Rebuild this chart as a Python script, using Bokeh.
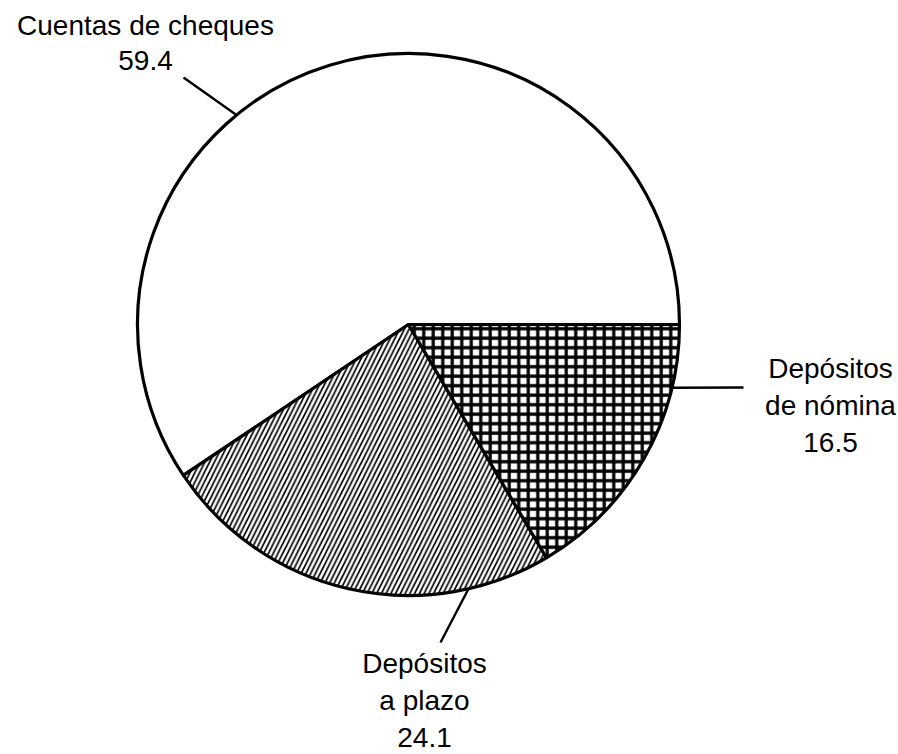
import math
from bokeh.plotting import figure
from bokeh.models import Range1d
from bokeh.core.properties import value
from bokeh.embed import file_html
from bokeh.resources import INLINE

# ---- data ----
categories = ["Cuentas de cheques", "Depósitos a plazo", "Depósitos de nómina"]
values = [59.4, 24.1, 16.5]
label_lines = [["Cuentas de cheques", "59.4"],
               ["Depósitos", "a plazo", "24.1"],
               ["Depósitos", "de nómina", "16.5"]]
hatches = [" ", "/", "+"]

# ---- layout (image pixel coords; y downward -> data y = -pixel) ----
W, H = 898, 754
cx, cy, R = 408, -324, 271
leader_angles = [129.4, -77.2, -13.5]          # degrees where leader touches the circle
leader_ends = [(183, 77), (440, 642), (743, 387)]
label_pos = [(145, 25), (424, 663), (830, 368)]  # baseline of first line, centre x
line_gap = [35, 37, 37]

p = figure(width=W, height=H, output_backend="svg", toolbar_location=None,
           x_range=Range1d(0, W), y_range=Range1d(-H, 0),
           min_border=0, outline_line_color=None)
p.axis.visible = False
p.grid.visible = False
p.background_fill_color = "white"
p.border_fill_color = "white"

total = sum(values)
starts, ends = [], []
a = 0.0
for v in values:
    starts.append(a)
    a += v / total * 2 * math.pi
    ends.append(a)

for i in range(len(values)):
    kw = {}
    if hatches[i].strip():
        kw = dict(hatch_pattern=hatches[i], hatch_color="black",
                  hatch_scale=9.5 if hatches[i] == "+" else 9.5,
                  hatch_weight=3.2 if hatches[i] == "+" else 1.7)
    p.wedge(x=cx, y=cy, radius=R, start_angle=starts[i], end_angle=ends[i],
            fill_color="white", line_color="black", line_width=3.2, **kw)

# leaders
for ang, (ex, ey) in zip(leader_angles, leader_ends):
    r = math.radians(ang)
    sx, sy = cx + R * math.cos(r), cy + R * math.sin(r)
    p.line([sx, ex], [sy, -ey], line_color="black", line_width=2.4)

# labels
for lines, (lx, ly), g in zip(label_lines, label_pos, line_gap):
    xs = [lx] * len(lines)
    ys = [-(ly + k * g) for k in range(len(lines))]
    p.text(x=xs, y=ys, text=lines, text_font=value("Liberation Sans"),
           text_font_size="28px", text_align="center", text_baseline="alphabetic",
           text_color="black")

open("out.html", "w").write(file_html(p, INLINE))
